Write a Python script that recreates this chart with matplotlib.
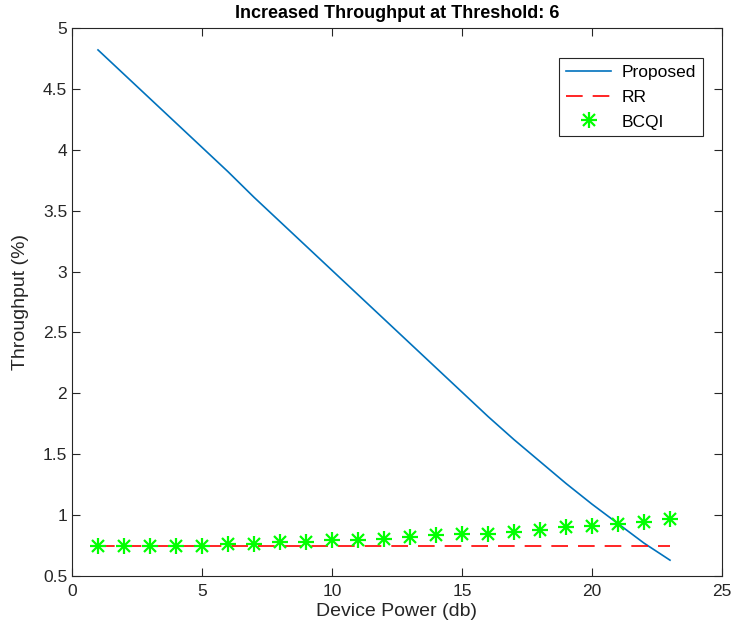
import matplotlib
matplotlib.use('Agg')
import matplotlib.pyplot as plt
from matplotlib.legend_handler import HandlerTuple

plt.rcParams['font.family'] = ['Liberation Sans', 'DejaVu Sans']

power = list(range(1, 24))
proposed = [4.82, 4.62, 4.42, 4.22, 4.02, 3.82, 3.61, 3.41, 3.21, 3.01,
            2.81, 2.61, 2.41, 2.21, 2.01, 1.81, 1.62, 1.44, 1.26, 1.09,
            0.93, 0.77, 0.63]
rr = [0.75] * 23
bcqi = [0.75, 0.75, 0.75, 0.75, 0.75, 0.76, 0.765, 0.78, 0.78, 0.795,
        0.795, 0.805, 0.82, 0.835, 0.848, 0.848, 0.862, 0.876, 0.9, 0.913,
        0.93, 0.94, 0.965]

fig = plt.figure(figsize=(7.42, 6.22), dpi=100)
ax = fig.add_axes([72/742, 1 - 576/622, 650/742, 548/622])

l1, = ax.plot(power, proposed, color='#0072BD', lw=1.2)
l2, = ax.plot(power, rr, color='#FF0000', lw=1.2, ls=(0, (10, 6)))
# MATLAB-style asterisk: a plus and an x on top of each other
m1, = ax.plot(power, bcqi, ls='none', marker='+', color='#00FF00', ms=12, mew=1.6)
m2, = ax.plot(power, bcqi, ls='none', marker='x', color='#00FF00', ms=9, mew=1.6)

ax.set_xlim(0, 25)
ax.set_ylim(0.5, 5)
ax.set_xticks([0, 5, 10, 15, 20, 25])
ax.set_yticks([0.5, 1, 1.5, 2, 2.5, 3, 3.5, 4, 4.5, 5])
ax.set_yticklabels(['0.5', '1', '1.5', '2', '2.5', '3', '3.5', '4', '4.5', '5'])
ax.tick_params(direction='in', top=True, right=True, length=6, width=0.8,
               labelsize=12.5, colors='#262626')
ax.tick_params(axis='x', pad=6)
for s in ax.spines.values():
    s.set_color('#262626')
    s.set_linewidth(0.8)

ax.set_xlabel('Device Power (db)', fontsize=14, color='#262626', labelpad=3)
ax.set_ylabel('Throughput (%)', fontsize=14, color='#262626', labelpad=10)
ax.set_title('Increased Throughput at Threshold: 6', fontsize=13,
             fontweight='bold', pad=7)

leg = ax.legend([l1, l2, (m1, m2)], ['Proposed', 'RR', 'BCQI'],
                handler_map={tuple: HandlerTuple(ndivide=1, pad=0)},
                numpoints=1, loc='upper right', bbox_to_anchor=(0.984, 0.961),
                fontsize=12.5, fancybox=False, edgecolor='#262626',
                framealpha=1, handlelength=2.6, borderpad=0.4,
                labelspacing=0.55, handletextpad=0.6)
leg.get_frame().set_linewidth(0.8)

fig.savefig('out.png', dpi=100)
